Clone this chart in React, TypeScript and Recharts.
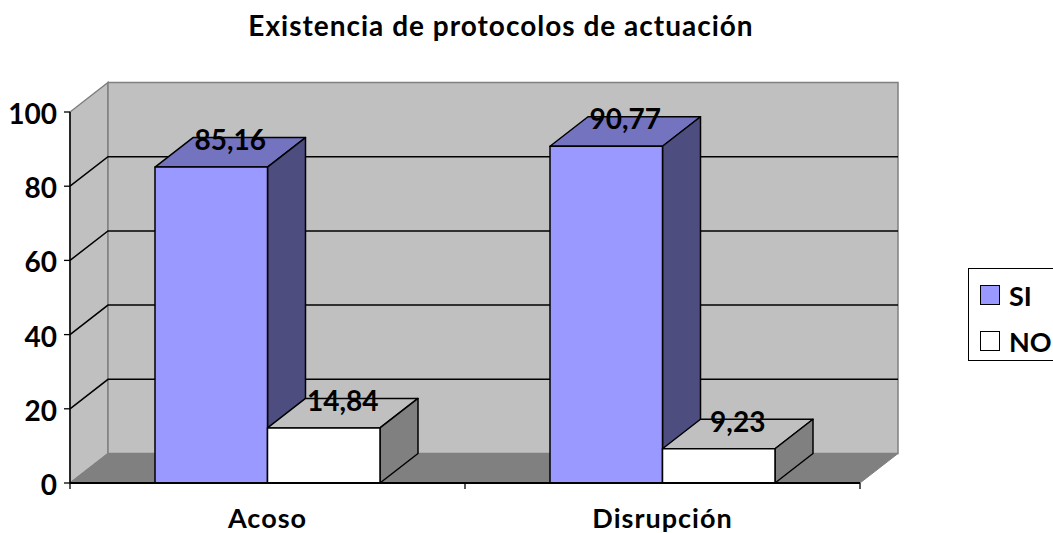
import React from "react";
import { BarChart, Bar, XAxis, YAxis, CartesianGrid, LabelList, Legend } from "recharts";

const categories = ["Acoso", "Disrupción"];
const siValues = [85.16, 90.77];
const noValues = [14.84, 9.23];
const yTicks = [0, 20, 40, 60, 80, 100];
const titleText = "Existencia de protocolos de actuación";
const data = categories.map((c, i) => ({ name: c, SI: siValues[i], NO: noValues[i] }));

const W = 1053, H = 533;
const LEFT = 70, TOP = 112, RIGHT = 860, BOTTOM = 483;
const DX = 38, DY = 29.5;
const LEGEND_W = 90;
const FONT = "Lato, Carlito, sans-serif";

const faces: Record<string, { front: string; top: string; side: string }> = {
  SI: { front: "#9999FF", top: "#7373BF", side: "#4D4D80" },
  NO: { front: "#FFFFFF", top: "#C0C0C0", side: "#808080" },
};

function poly(p: number[][]) {
  return p.map((q) => q.join(",")).join(" ");
}

function Walls() {
  return (
    <g>
      <polygon points={poly([[LEFT, BOTTOM], [LEFT + DX, BOTTOM - DY], [LEFT + DX, TOP - DY], [LEFT, TOP]])} fill="#C0C0C0" stroke="#808080" strokeWidth={1.5} />
      <polygon points={poly([[LEFT + DX, BOTTOM - DY], [RIGHT + DX, BOTTOM - DY], [RIGHT + DX, TOP - DY], [LEFT + DX, TOP - DY]])} fill="#C0C0C0" stroke="#808080" strokeWidth={1.5} />
      <polygon points={poly([[LEFT, BOTTOM], [LEFT + DX, BOTTOM - DY], [RIGHT + DX, BOTTOM - DY], [RIGHT, BOTTOM]])} fill="#808080" stroke="#808080" strokeWidth={1} />
    </g>
  );
}

function Title() {
  return (
    <text x={501} y={36} textAnchor="middle" fontFamily={FONT} fontWeight={700} fontSize={28} letterSpacing={1} fill="#000">{titleText}</text>
  );
}

function GridLine(props: any) {
  const { x1, y1, x2, index } = props;
  const isEdge = y1 <= TOP + 1 || y1 >= BOTTOM - 1;
  return (
    <g>
      {index === 0 ? <Walls /> : null}
      {isEdge ? null : (
        <polyline points={poly([[x1, y1], [x1 + DX, y1 - DY], [x2 + DX, y1 - DY]])} fill="none" stroke="#000" strokeWidth={1.5} />
      )}
    </g>
  );
}

function Box3D(props: any) {
  const { x, y, width, height, dataKey } = props;
  const c = faces[dataKey as string];
  const r = x + width, b = y + height;
  return (
    <g stroke="#000" strokeWidth={1.5} strokeLinejoin="round">
      <polygon points={poly([[x, y], [x + DX, y - DY], [r + DX, y - DY], [r, y]])} fill={c.top} />
      <polygon points={poly([[r, y], [r + DX, y - DY], [r + DX, b - DY], [r, b]])} fill={c.side} />
      <rect x={x} y={y} width={width} height={height} fill={c.front} />
    </g>
  );
}

function ValueLabel(props: any) {
  const { x, y, width, value } = props;
  return (
    <text x={x + width / 2 + 19} y={y - 17} textAnchor="middle" fontFamily={FONT} fontWeight={700} fontSize={28} fill="#000">
      {String(value).replace(".", ",")}
    </text>
  );
}

function BoundaryTicks() {
  const step = (RIGHT - LEFT) / categories.length;
  const xs = [0, 1, 2].map((i) => LEFT + i * step);
  return (
    <g>
      {xs.map((x) => <line key={x} x1={x} x2={x} y1={BOTTOM} y2={BOTTOM + 6} stroke="#000" strokeWidth={1.3} />)}
    </g>
  );
}

function LegendBox(props: any) {
  const items = props.payload || [];
  return (
    <div style={{ boxSizing: "border-box", width: LEGEND_W, height: 93, border: "1.5px solid #000", background: "#fff", fontFamily: FONT, fontWeight: 700, fontSize: 27, color: "#000", paddingLeft: 11, paddingTop: 3 }}>
      {items.map((it: any) => (
        <div key={it.value} style={{ display: "flex", alignItems: "center", height: 46, whiteSpace: "nowrap" }}>
          <span style={{ boxSizing: "border-box", display: "inline-block", width: 20, height: 20, background: faces[it.value].front, border: "1.5px solid #000", marginRight: 9 }} />
          {it.value}
        </div>
      ))}
    </div>
  );
}

export default function App() {
  return (
    <div style={{ position: "absolute", left: 0, top: 0, width: W, height: H, overflow: "hidden", background: "#fff" }}>
      <BarChart width={W} height={H} data={data} barSize={112.5} barGap={0} margin={{ top: TOP, right: W - RIGHT - LEGEND_W, bottom: 0, left: 0 }}>
        <CartesianGrid vertical={false} horizontal={(p: any) => <GridLine key={p.key} {...p} />} />
        <Title />
        <XAxis dataKey="name" height={H - BOTTOM} tickLine={false} axisLine={{ stroke: "#000", strokeWidth: 2 }} tick={{ fontFamily: FONT, fontWeight: 700, fontSize: 27, letterSpacing: 1, fill: "#000" }} dy={18} />
        <YAxis width={LEFT} domain={[0, 100]} ticks={yTicks} interval={0} tickSize={6} tickMargin={7} dy={2} tickLine={{ stroke: "#000", strokeWidth: 1.3 }} axisLine={{ stroke: "#000", strokeWidth: 1.5 }} tick={{ fontFamily: FONT, fontWeight: 700, fontSize: 28, fill: "#000" }} />
        <Bar dataKey="SI" fill="#9999FF" shape={Box3D} isAnimationActive={false}>
          <LabelList dataKey="SI" content={ValueLabel} />
        </Bar>
        <Bar dataKey="NO" fill="#FFFFFF" shape={Box3D} isAnimationActive={false}>
          <LabelList dataKey="NO" content={ValueLabel} />
        </Bar>
        <BoundaryTicks />
        <Legend content={LegendBox} itemSorter={null} layout="vertical" align="right" verticalAlign="top" wrapperStyle={{ position: "absolute", left: 968, top: 268, width: LEGEND_W, height: 93 }} />
      </BarChart>
    </div>
  );
}
